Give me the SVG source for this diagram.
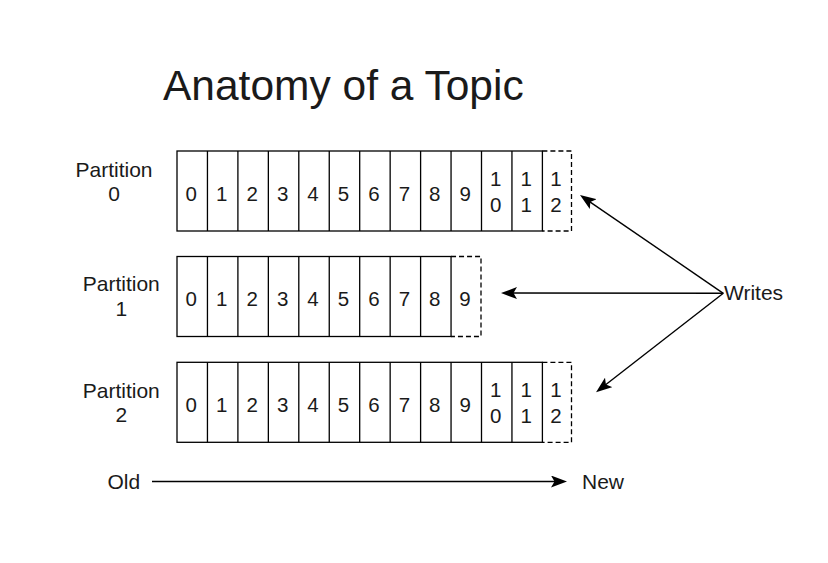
<svg xmlns="http://www.w3.org/2000/svg" width="828" height="563" viewBox="0 0 828 563">
<style>
text{font-family:"Liberation Sans",Arial,sans-serif;fill:#1a1a1a}
.d{font-size:20.5px;text-anchor:middle}
.lbl{font-size:21px;text-anchor:middle}
.t{font-size:21px}
.cell{fill:#fff;stroke:#000;stroke-width:1.3}
.dash{fill:none;stroke:#000;stroke-width:1.3;stroke-dasharray:5 3}
.conn{stroke:#000;stroke-width:1.4;fill:none}
</style>
<defs>
<marker id="ah" markerUnits="userSpaceOnUse" markerWidth="17" markerHeight="12" refX="12" refY="6" orient="auto">
<path d="M0,0 L16,6 L0,12 L3.5,6 Z" fill="#000"/>
</marker>
</defs>
<rect width="828" height="563" fill="#fff"/>
<text x="163" y="99.5" style="font-size:42.5px">Anatomy of a Topic</text>

<g id="partition0">
<text class="lbl" x="114" y="177.3">Partition</text>
<text class="lbl" x="114" y="201.3">0</text>
<rect class="cell" x="177" y="151" width="365.4" height="80"/>
<path d="M207.45,151V231M237.9,151V231M268.35,151V231M298.8,151V231M329.25,151V231M359.7,151V231M390.15,151V231M420.6,151V231M451.05,151V231M481.5,151V231M511.95,151V231" stroke="#000" stroke-width="1.3"/>
<path class="dash" d="M542.4,151H571.5V231H542.4"/>
<text class="d" x="191.2" y="200.5">0</text>
<text class="d" x="221.7" y="200.5">1</text>
<text class="d" x="252.1" y="200.5">2</text>
<text class="d" x="282.6" y="200.5">3</text>
<text class="d" x="313" y="200.5">4</text>
<text class="d" x="343.5" y="200.5">5</text>
<text class="d" x="373.9" y="200.5">6</text>
<text class="d" x="404.4" y="200.5">7</text>
<text class="d" x="434.8" y="200.5">8</text>
<text class="d" x="465.3" y="200.5">9</text>
<text class="d" x="495.7" y="185.7">1</text><text class="d" x="495.7" y="211.5">0</text>
<text class="d" x="526.2" y="185.7">1</text><text class="d" x="526.2" y="211.5">1</text>
<text class="d" x="556" y="185.7">1</text><text class="d" x="556" y="211.5">2</text>
</g>

<g id="partition1">
<text class="lbl" x="121.3" y="290.7">Partition</text>
<text class="lbl" x="121.3" y="315.5">1</text>
<rect class="cell" x="177" y="256.5" width="274.05" height="80"/>
<path d="M207.45,256.5V336.5M237.9,256.5V336.5M268.35,256.5V336.5M298.8,256.5V336.5M329.25,256.5V336.5M359.7,256.5V336.5M390.15,256.5V336.5M420.6,256.5V336.5" stroke="#000" stroke-width="1.3"/>
<path class="dash" d="M451.05,256.5H481V336.5H451.05"/>
<text class="d" x="191.2" y="306">0</text>
<text class="d" x="221.7" y="306">1</text>
<text class="d" x="252.1" y="306">2</text>
<text class="d" x="282.6" y="306">3</text>
<text class="d" x="313" y="306">4</text>
<text class="d" x="343.5" y="306">5</text>
<text class="d" x="373.9" y="306">6</text>
<text class="d" x="404.4" y="306">7</text>
<text class="d" x="434.8" y="306">8</text>
<text class="d" x="465" y="306">9</text>
</g>

<g id="partition2">
<text class="lbl" x="121.3" y="398.3">Partition</text>
<text class="lbl" x="121.3" y="422">2</text>
<rect class="cell" x="177" y="362.3" width="365.4" height="80"/>
<path d="M207.45,362.3V442.3M237.9,362.3V442.3M268.35,362.3V442.3M298.8,362.3V442.3M329.25,362.3V442.3M359.7,362.3V442.3M390.15,362.3V442.3M420.6,362.3V442.3M451.05,362.3V442.3M481.5,362.3V442.3M511.95,362.3V442.3" stroke="#000" stroke-width="1.3"/>
<path class="dash" d="M542.4,362.3H571.5V442.3H542.4"/>
<text class="d" x="191.2" y="411.8">0</text>
<text class="d" x="221.7" y="411.8">1</text>
<text class="d" x="252.1" y="411.8">2</text>
<text class="d" x="282.6" y="411.8">3</text>
<text class="d" x="313" y="411.8">4</text>
<text class="d" x="343.5" y="411.8">5</text>
<text class="d" x="373.9" y="411.8">6</text>
<text class="d" x="404.4" y="411.8">7</text>
<text class="d" x="434.8" y="411.8">8</text>
<text class="d" x="465.3" y="411.8">9</text>
<text class="d" x="495.7" y="397">1</text><text class="d" x="495.7" y="422.8">0</text>
<text class="d" x="526.2" y="397">1</text><text class="d" x="526.2" y="422.8">1</text>
<text class="d" x="556" y="397">1</text><text class="d" x="556" y="422.8">2</text>
</g>

<g id="writes">
<text class="t" x="724" y="300">Writes</text>
</g>
<g id="old"><text class="t" x="107.5" y="488.5">Old</text></g>
<g id="new"><text class="t" x="582" y="488.5">New</text></g>

<g id="connectors">
<line class="conn" x1="723.3" y1="293.3" x2="583.3" y2="197.3" marker-end="url(#ah)"/>
<line class="conn" x1="723.3" y1="293.3" x2="505" y2="293" marker-end="url(#ah)"/>
<line class="conn" x1="723.3" y1="293.3" x2="599.2" y2="389.8" marker-end="url(#ah)"/>
<line class="conn" x1="152" y1="481.5" x2="563" y2="481.5" marker-end="url(#ah)"/>
</g>
</svg>
